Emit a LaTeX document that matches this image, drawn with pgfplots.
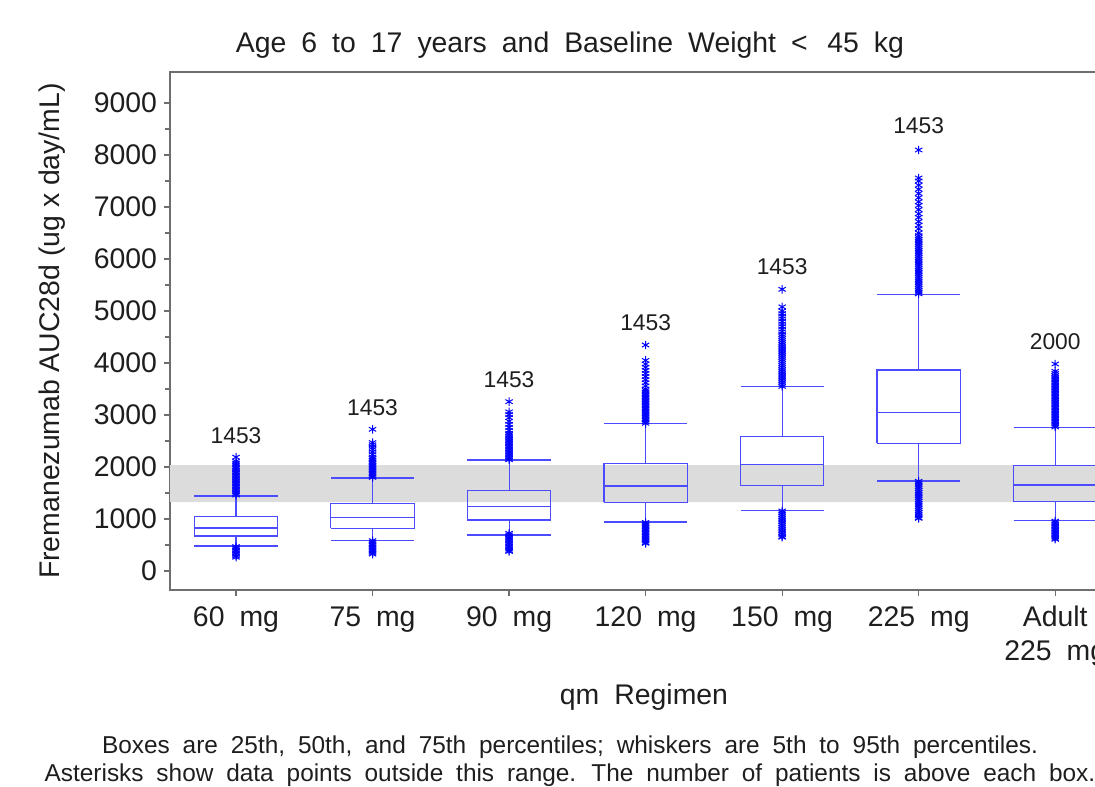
\documentclass[border=0pt]{standalone}
\usepackage{fontspec}
\setmainfont{Liberation Sans}[WordSpace=1.9]
\newfontfamily\nsp{Liberation Sans}
\usepackage{pgfplots}
\pgfplotsset{compat=1.18}
\definecolor{boxblue}{RGB}{75,75,255}
\definecolor{outblue}{RGB}{0,0,255}
\definecolor{band}{RGB}{220,220,220}
\definecolor{frame}{RGB}{110,110,110}
\definecolor{txt}{RGB}{30,30,30}
\newcommand\f{\fontsize{14.2}{17}\selectfont}
\newcommand\fs{\fontsize{12.2}{14}\selectfont}
\newcommand\fc{\fontsize{11.4}{13}\selectfont}
\pgfplotsset{bl/.style={draw=boxblue, line width=0.55pt, solid, mark=none, forget plot},
  ol/.style={only marks, mark=asterisk, mark size=2.1pt, mark options={draw=outblue, line width=0.5pt, solid}, forget plot}}
% #1 pos, #2 left, #3 right, #4 lower whisker, #5 Q1, #6 median, #7 Q3, #8 upper whisker
\newcommand\bxp[8]{%
 \addplot[bl] coordinates {(#2,#5) (#3,#5) (#3,#7) (#2,#7) (#2,#5)};
 \addplot[bl] coordinates {(#2,#6) (#3,#6)};
 \addplot[bl] coordinates {(#1,#7) (#1,#8)};
 \addplot[bl] coordinates {(#2,#8) (#3,#8)};
 \addplot[bl] coordinates {(#1,#5) (#1,#4)};
 \addplot[bl] coordinates {(#2,#4) (#3,#4)};
}
\begin{document}
\begin{tikzpicture}
\useasboundingbox (0pt,0pt) rectangle (547.5pt,-393pt);
\clip (0pt,0pt) rectangle (547.5pt,-393pt);
\begin{axis}[
  at={(85pt,-36pt)}, anchor=north west,
  scale only axis, width=474pt, height=259pt,
  xmin=-0.4835, xmax=6.46, ymin=-365, ymax=9596,
  xtick={0,1,2,3,4,5,6},
  xticklabels={{60 mg\\\mbox{}}, {75 mg\\\mbox{}}, {90 mg\\\mbox{}}, {120 mg\\\mbox{}}, {150 mg\\\mbox{}}, {225 mg\\\mbox{}}, {Adult\\225 mg}},
  xticklabel style={align=center, font=\f, text=txt, anchor=base, yshift=-32pt},
  ytick={0,1000,2000,3000,4000,5000,6000,7000,8000,9000},
  minor ytick={500,1500,2500,3500,4500,5500,6500,7500,8500},
  yticklabel style={font=\f, text=txt},
  /pgf/number format/assume math mode=true,
  /pgf/number format/1000 sep={},
  scaled y ticks=false,
  tick align=outside, tick pos=left,
  major tick length=3pt, minor tick length=2.5pt,
  every tick/.style={draw=frame, line width=0.6pt},
  axis line style={draw=frame, line width=0.6pt},
  ylabel={Fremanezumab AUC28d (ug x day/mL)},
  ylabel style={at={(axis description cs:-0.1245,0.5)}, anchor=center, font=\nsp\f, text=txt},
  xlabel={qm Regimen},
  xlabel style={at={(axis description cs:0.5,-0.2066)}, anchor=center, font=\f, text=txt},
]
\addplot[fill=band, draw=none, forget plot] coordinates {(-1,1327) (8,1327) (8,2038) (-1,2038) (-1,1327)};

\bxp{0}{-0.305}{0.305}{481}{673}{827}{1045}{1442}
\bxp{1}{0.695}{1.305}{590}{821}{1025}{1295}{1788}
\bxp{2}{1.695}{2.305}{692}{981}{1237}{1551}{2135}
\bxp{3}{2.695}{3.305}{942}{1321}{1635}{2071}{2833}
\bxp{4}{3.695}{4.305}{1160}{1641}{2051}{2583}{3545}
\bxp{5}{4.695}{5.305}{1731}{2455}{3051}{3865}{5321}
\bxp{6}{5.695}{6.305}{968}{1333}{1654}{2026}{2763}

\addplot[ol] coordinates {(0,1460) (0,1490) (0,1520) (0,1550) (0,1580) (0,1610) (0,1640) (0,1670) (0,1700) (0,1730) (0,1760) (0,1790) (0,1820) (0,1850) (0,1880) (0,1910) (0,1940) (0,1970) (0,2000) (0,2040) (0,2075) (0,2110) (0,2190)
 (0,470) (0,440) (0,410) (0,380) (0,350) (0,320) (0,290) (0,265)};

\addplot[ol] coordinates {(1,1800) (1,1830) (1,1860) (1,1890) (1,1920) (1,1950) (1,1980) (1,2010) (1,2040) (1,2070) (1,2100) (1,2130) (1,2160) (1,2190) (1,2240) (1,2290) (1,2340) (1,2380) (1,2430) (1,2470) (1,2725)
 (1,585) (1,555) (1,525) (1,495) (1,465) (1,435) (1,405) (1,375) (1,345) (1,325)};

\addplot[ol] coordinates {(2,2140) (2,2170) (2,2200) (2,2230) (2,2260) (2,2290) (2,2320) (2,2350) (2,2380) (2,2410) (2,2440) (2,2470) (2,2500) (2,2530) (2,2560) (2,2590) (2,2620) (2,2650) (2,2700) (2,2760) (2,2820) (2,2880) (2,2950) (2,3010) (2,3060) (2,3256)
 (2,725) (2,695) (2,665) (2,635) (2,605) (2,575) (2,545) (2,515) (2,485) (2,455) (2,425) (2,395) (2,375)};

\addplot[ol] coordinates {(3,2840) (3,2870) (3,2900) (3,2930) (3,2960) (3,2990) (3,3020) (3,3050) (3,3080) (3,3110) (3,3140) (3,3170) (3,3200) (3,3230) (3,3260) (3,3290) (3,3320) (3,3350) (3,3380) (3,3410) (3,3440) (3,3470) (3,3500) (3,3560) (3,3620) (3,3680) (3,3740) (3,3800) (3,3860) (3,3920) (3,3980) (3,4050) (3,4346)
 (3,935) (3,905) (3,875) (3,845) (3,815) (3,785) (3,755) (3,725) (3,695) (3,665) (3,635) (3,605) (3,575) (3,545) (3,532)};

\addplot[ol] coordinates {(4,3550) (4,3590) (4,3630) (4,3670) (4,3710) (4,3750) (4,3790) (4,3830) (4,3870) (4,3910) (4,3950) (4,3990) (4,4030) (4,4070) (4,4110) (4,4150) (4,4190) (4,4230) (4,4270) (4,4310) (4,4350) (4,4390) (4,4430) (4,4470) (4,4510) (4,4550) (4,4600) (4,4650) (4,4700) (4,4750) (4,4800) (4,4850) (4,4900) (4,4950) (4,5000) (4,5080) (4,5417)
 (4,1155) (4,1120) (4,1085) (4,1050) (4,1015) (4,980) (4,945) (4,910) (4,875) (4,840) (4,805) (4,770) (4,735) (4,700) (4,665) (4,650)};

\addplot[ol] coordinates {(5,5330) (5,5365) (5,5400) (5,5435) (5,5470) (5,5505) (5,5540) (5,5575) (5,5610) (5,5645) (5,5680) (5,5715) (5,5750) (5,5785) (5,5820) (5,5855) (5,5890) (5,5925) (5,5960) (5,5995) (5,6030) (5,6065) (5,6100) (5,6135) (5,6170) (5,6205) (5,6240) (5,6275) (5,6310) (5,6345) (5,6380) (5,6415) (5,6450) (5,6500) (5,6580) (5,6650) (5,6720) (5,6800) (5,6870) (5,6950) (5,7030) (5,7100) (5,7180) (5,7260) (5,7340) (5,7420) (5,7500) (5,7558) (5,8096)
 (5,1725) (5,1690) (5,1655) (5,1620) (5,1585) (5,1550) (5,1515) (5,1480) (5,1445) (5,1410) (5,1375) (5,1340) (5,1305) (5,1270) (5,1235) (5,1200) (5,1165) (5,1130) (5,1095) (5,1060) (5,1025) (5,1013)};

\addplot[ol] coordinates {(6,2770) (6,2800) (6,2830) (6,2860) (6,2890) (6,2920) (6,2950) (6,2980) (6,3010) (6,3040) (6,3070) (6,3100) (6,3130) (6,3160) (6,3190) (6,3220) (6,3250) (6,3280) (6,3310) (6,3340) (6,3370) (6,3400) (6,3430) (6,3460) (6,3490) (6,3520) (6,3550) (6,3580) (6,3610) (6,3640) (6,3670) (6,3700) (6,3730) (6,3760) (6,3800) (6,3840) (6,3981)
 (6,960) (6,930) (6,900) (6,870) (6,840) (6,810) (6,780) (6,750) (6,720) (6,690) (6,660) (6,630) (6,610)};

\node[font=\fc, text=txt] at (axis cs:0,2596) {1453};
\node[font=\fc, text=txt] at (axis cs:1,3135) {1453};
\node[font=\fc, text=txt] at (axis cs:2,3673) {1453};
\node[font=\fc, text=txt] at (axis cs:3,4769) {1453};
\node[font=\fc, text=txt] at (axis cs:4,5846) {1453};
\node[font=\fc, text=txt] at (axis cs:5,8558) {1453};
\node[font=\fc, text=txt] at (axis cs:6,4404) {2000};
\end{axis}
\node[font=\f, text=txt, anchor=base] at (285pt,-26.5pt) {Age 6 to 17 years and Baseline Weight <\, 45 kg};
\node[font=\fs, text=txt, anchor=base] at (285pt,-376.5pt) {Boxes are 25th, 50th, and 75th percentiles; whiskers are 5th to 95th percentiles.};
\node[font=\fs, text=txt, anchor=base] at (285pt,-390.5pt) {Asterisks show data points outside this range. The number of patients is above each box.};
\end{tikzpicture}
\end{document}
